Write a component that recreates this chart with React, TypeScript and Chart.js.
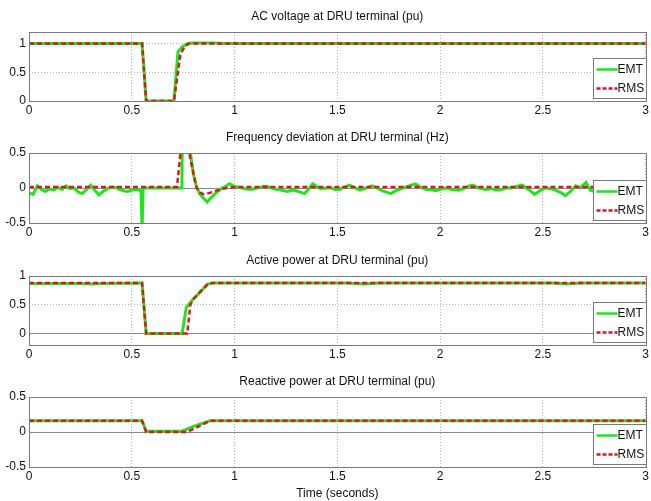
import React, { useEffect, useRef } from "react";
import { Chart, registerables } from "chart.js";

Chart.register(...registerables);

// ---------- data ----------
const xTicks = [0, 0.5, 1, 1.5, 2, 2.5, 3];

// Panel 1: AC voltage (pu)
const vTimeEmt = [0, 0.55, 0.57, 0.705, 0.725, 0.745, 0.772, 0.8, 0.9, 0.95, 3];
const vEmt = [1, 1, 0, 0, 0.86, 0.94, 1.0, 1.01, 1.01, 1.0, 1.0];
const vTimeRms = [0, 0.55, 0.57, 0.705, 0.737, 0.761, 0.78, 3];
const vRms = [1, 1, 0, 0, 0.82, 0.96, 1, 1];
const vYTicks = [0, 0.5, 1];

// Panel 2: Frequency deviation (Hz)
const fTimeEmt = [
  0, 0.02, 0.04, 0.06, 0.08, 0.1, 0.12, 0.14, 0.16, 0.18, 0.2, 0.22, 0.24, 0.26, 0.28, 0.3, 0.32, 0.34,
  0.36, 0.38, 0.4, 0.42, 0.44, 0.46, 0.48, 0.5, 0.52, 0.545, 0.55, 0.552, 0.555, 0.6, 0.7, 0.744, 0.746,
  0.77, 0.785, 0.8, 0.815, 0.83, 0.85, 0.867, 0.885, 0.91, 0.94, 0.965, 0.975, 1.0, 1.02, 1.05, 1.08,
  1.11, 1.14, 1.16, 1.19, 1.21, 1.24, 1.26, 1.28, 1.3, 1.32, 1.34, 1.36, 1.38, 1.4, 1.42, 1.45, 1.47,
  1.49, 1.51, 1.53, 1.56, 1.58, 1.61, 1.64, 1.67, 1.7, 1.72, 1.74, 1.76, 1.79, 1.82, 1.85, 1.88, 1.9,
  1.93, 1.96, 1.98, 2.01, 2.03, 2.06, 2.09, 2.12, 2.14, 2.16, 2.19, 2.22, 2.25, 2.27, 2.29, 2.32, 2.35,
  2.38, 2.4, 2.43, 2.46, 2.48, 2.51, 2.54, 2.56, 2.59, 2.61, 2.63, 2.66, 2.68, 2.71, 2.73, 2.76, 2.79,
  2.82, 2.85, 2.88, 2.91, 2.94, 2.97, 3.0,
];
const fEmt = [
  -0.07, -0.09, 0.03, -0.02, -0.05, -0.01, -0.03, 0.01, -0.02, 0.03, -0.01, 0.0, -0.06, -0.08, -0.02, 0.04,
  -0.03, -0.1, -0.05, -0.01, 0.01, 0.01, -0.02, -0.04, -0.05, -0.03, -0.02, -0.04, -0.6, -0.6, 0, 0, 0,
  0, 1.0, 1.0, 0.5, 0.2, 0.02, -0.08, -0.15, -0.2, -0.14, -0.07, 0.0, 0.04, 0.06, 0.02, 0.01, -0.01,
  -0.02, 0.0, 0.02, 0.02, -0.01, -0.02, -0.04, -0.05, -0.03, -0.04, -0.06, -0.08, -0.02, 0.06, 0.02,
  -0.01, 0.0, 0.0, -0.02, -0.02, 0.01, 0.04, 0.01, -0.03, 0.0, 0.03, -0.01, -0.04, -0.06, -0.08, -0.03,
  0.0, 0.03, 0.06, 0.02, -0.02, -0.03, -0.04, -0.01, 0.0, -0.02, -0.03, 0.0, 0.03, 0.04, 0.0, -0.02,
  -0.01, -0.03, -0.03, 0.0, 0.0, 0.03, 0.04, -0.02, -0.09, -0.05, 0.0, -0.01, -0.03, -0.07, -0.11, -0.06,
  0.03, 0.0, 0.08, -0.03, -0.05, 0.04, -0.02, -0.06, -0.01, 0.03, -0.04, -0.08, -0.03,
];
const fTimeRms = [0, 0.72, 0.737, 0.76, 0.78, 0.8, 0.815, 0.835, 0.85, 0.88, 0.92, 0.96, 1.0, 3];
const fRms = [0.015, 0.015, 0.5, 0.9, 0.5, 0.2, 0.0, -0.07, -0.09, -0.07, -0.03, 0.0, 0.015, 0.015];
const fYTicks = [-0.5, 0, 0.5];

// Panel 3: Active power (pu)
const pTimeEmt = [0, 0.1, 0.25, 0.3, 0.35, 0.55, 0.57, 0.745, 0.765, 0.78, 0.8, 0.84, 0.87, 0.9, 1.0, 1.55, 1.63, 1.7, 2.0, 2.55, 2.62, 2.68, 3];
const pEmt = [0.87, 0.87, 0.87, 0.86, 0.87, 0.88, 0, 0, 0.45, 0.52, 0.6, 0.75, 0.86, 0.88, 0.88, 0.88, 0.86, 0.88, 0.88, 0.88, 0.86, 0.88, 0.88];
const pTimeRms = [0, 0.55, 0.57, 0.77, 0.785, 0.8, 0.84, 0.875, 3];
const pRms = [0.88, 0.88, 0, 0, 0.5, 0.6, 0.75, 0.88, 0.88];
const pYTicks = [0, 0.5, 1];

// Panel 4: Reactive power (pu)
const qTimeEmt = [0, 0.55, 0.57, 0.74, 0.76, 0.8, 0.85, 0.88, 3];
const qEmt = [0.16, 0.16, 0.01, 0.01, 0.03, 0.08, 0.13, 0.16, 0.16];
const qTimeRms = [0, 0.55, 0.57, 0.77, 0.88, 3];
const qRms = [0.16, 0.16, 0.0, 0.0, 0.16, 0.16];
const qYTicks = [-0.5, 0, 0.5];

const seriesNames = ["EMT", "RMS"];

// ---------- styling ----------
const GREEN = "#1ee61e";
const RED = "#e0141c";
const FONT = "'Liberation Sans', Arial, sans-serif";
const CHART_LEFT = 29;
const CHART_RIGHT_PAD = 5;
const W = 651;

type Panel = {
  title: string;
  top: number;
  height: number;
  padTop: number;
  plotH: number;
  yMin: number;
  yMax: number;
  yTicks: number[];
  emt: [number[], number[]];
  rms: [number[], number[]];
  xTitle?: string;
};

const panels: Panel[] = [
  { title: "AC voltage at DRU terminal (pu)", top: 0, height: 120, padTop: 32, plotH: 69, yMin: 0, yMax: 1.2, yTicks: vYTicks, emt: [vTimeEmt, vEmt], rms: [vTimeRms, vRms] },
  { title: "Frequency deviation at DRU terminal (Hz)", top: 120, height: 125, padTop: 33, plotH: 70, yMin: -0.5, yMax: 0.5, yTicks: fYTicks, emt: [fTimeEmt, fEmt], rms: [fTimeRms, fRms] },
  { title: "Active power at DRU terminal (pu)", top: 245, height: 125, padTop: 31, plotH: 69, yMin: -0.2, yMax: 1.0, yTicks: pYTicks, emt: [pTimeEmt, pEmt], rms: [pTimeRms, pRms] },
  { title: "Reactive power at DRU terminal (pu)", top: 370, height: 131, padTop: 27, plotH: 70, yMin: -0.5, yMax: 0.5, yTicks: qYTicks, emt: [qTimeEmt, qEmt], rms: [qTimeRms, qRms], xTitle: "Time (seconds)" },
];

const zip = (xs: number[], ys: number[]) => xs.map((x, i) => ({ x, y: ys[i] }));

const decorPlugin = {
  id: "decor",
  afterDatasetsDraw(chart: any, _args: any, opts: any) {
    const { ctx, chartArea: a } = chart;
    ctx.save();
    // frame
    ctx.strokeStyle = "#7a7a7a";
    ctx.lineWidth = 1;
    ctx.setLineDash([]);
    ctx.strokeRect(Math.round(a.left) + 0.5, Math.round(a.top) + 0.5, Math.round(a.right - a.left), Math.round(a.bottom - a.top));
    // title
    ctx.fillStyle = "#111";
    ctx.font = `12px ${FONT}`;
    ctx.textAlign = "center";
    ctx.textBaseline = "middle";
    ctx.fillText(opts.title, (a.left + a.right) / 2, a.top - 15);
    // legend box
    const bw = 53, bh = 40;
    const bx = Math.round(a.right - bw) + 0.5;
    const by = Math.round(a.bottom - bh - 3) + 0.5;
    ctx.fillStyle = "#fff";
    ctx.fillRect(bx, by, bw, bh);
    ctx.strokeStyle = "#7a7a7a";
    ctx.strokeRect(bx, by, bw, bh);
    const rows = [
      { name: seriesNames[0], color: GREEN, dash: [] as number[], w: 2.5 },
      { name: seriesNames[1], color: RED, dash: [4, 2], w: 2.5 },
    ];
    rows.forEach((r, i) => {
      const yy = by + 11 + i * 19;
      ctx.strokeStyle = r.color;
      ctx.lineWidth = r.w;
      ctx.setLineDash(r.dash);
      ctx.beginPath();
      ctx.moveTo(bx + 3, yy);
      ctx.lineTo(bx + 24, yy);
      ctx.stroke();
      ctx.setLineDash([]);
      ctx.fillStyle = "#111";
      ctx.textAlign = "left";
      ctx.fillText(r.name, bx + 24, yy + 0.5);
    });
    ctx.restore();
  },
};

const isZero = (c: any) => c && c.tick && Math.abs(c.tick.value) < 1e-9;

function PanelChart({ p }: { p: Panel }) {
  const ref = useRef<HTMLCanvasElement | null>(null);
  useEffect(() => {
    if (!ref.current) return;
    const xAxisH = p.height - p.padTop - p.plotH;
    const chart = new Chart(ref.current, {
      type: "line",
      data: {
        datasets: [
          {
            label: seriesNames[0],
            data: zip(p.emt[0], p.emt[1]),
            borderColor: GREEN,
            borderWidth: 3,
            pointRadius: 0,
            tension: 0,
            clip: 0,
            order: 2,
          },
          {
            label: seriesNames[1],
            data: zip(p.rms[0], p.rms[1]),
            borderColor: RED,
            borderWidth: 2.5,
            borderDash: [5, 3],
            pointRadius: 0,
            tension: 0,
            clip: 0,
            order: 1,
          },
        ],
      },
      options: {
        animation: false,
        responsive: false,
        maintainAspectRatio: false,
        events: [],
        layout: { padding: { top: p.padTop, right: CHART_RIGHT_PAD, left: 0, bottom: 0 } },
        plugins: {
          legend: { display: false },
          tooltip: { enabled: false },
          title: { display: false },
          decor: { title: p.title },
        } as any,
        scales: {
          x: {
            type: "linear",
            min: 0,
            max: 3,
            afterBuildTicks: (s: any) => {
              s.ticks = xTicks.map((v) => ({ value: v }));
            },
            afterFit: (s: any) => {
              s.height = xAxisH;
            },
            grid: { color: "#b4b4b4", drawTicks: false, lineWidth: 1 },
            border: { display: false, dash: [1, 2] },
            ticks: {
              autoSkip: false,
              maxRotation: 0,
              padding: 2,
              color: "#111",
              font: { family: FONT, size: 12 },
              callback: (v: any) => String(v),
            },
            title: p.xTitle
              ? { display: true, text: p.xTitle, color: "#111", font: { family: FONT, size: 12 }, padding: { top: 1, bottom: 0 } }
              : { display: false },
          },
          y: {
            min: p.yMin,
            max: p.yMax,
            afterBuildTicks: (s: any) => {
              s.ticks = p.yTicks.map((v) => ({ value: v }));
            },
            afterFit: (s: any) => {
              s.width = CHART_LEFT;
            },
            grid: {
              color: (c: any) => (isZero(c) && p.yMin < 0 ? "#8a8a8a" : "#b4b4b4"),
              drawTicks: false,
              lineWidth: 1,
            },
            border: {
              display: false,
              dash: (c: any) => (isZero(c) && p.yMin < 0 ? [] : [1, 2]),
            },
            ticks: {
              autoSkip: false,
              padding: 3,
              color: "#111",
              font: { family: FONT, size: 12 },
              callback: (v: any) => String(v),
            },
          },
        },
      },
      plugins: [decorPlugin],
    } as any);
    return () => chart.destroy();
  }, [p]);
  return (
    <canvas
      ref={ref}
      width={W}
      height={p.height}
      style={{ position: "absolute", left: 0, top: p.top, width: W, height: p.height }}
    />
  );
}

export default function App() {
  return (
    <div style={{ position: "absolute", left: 0, top: 0, width: W, height: 501, background: "#fff", overflow: "hidden" }}>
      {panels.map((p, i) => (
        <PanelChart key={i} p={p} />
      ))}
    </div>
  );
}
